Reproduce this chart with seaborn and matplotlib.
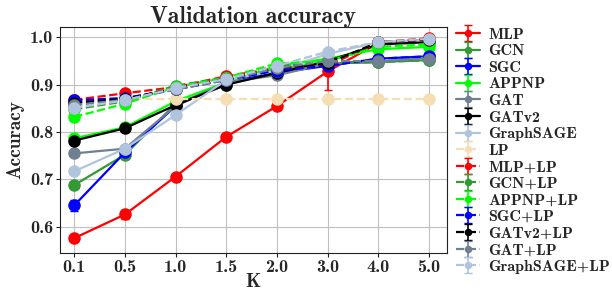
import numpy as np
import matplotlib
matplotlib.use("Agg")
import matplotlib.pyplot as plt
import seaborn as sns

# valores K (eje categórico)
k_labels = ["0.1", "0.5", "1.0", "1.5", "2.0", "3.0", "4.0", "5.0"]

mlp = [0.576, 0.626, 0.706, 0.790, 0.855, 0.928, 0.988, 0.995]
mlp_err = [0.006, 0.010, 0.005, 0.005, 0.006, 0.040, 0.005, 0.005]
gcn = [0.688, 0.752, 0.860, 0.900, 0.935, 0.945, 0.948, 0.952]
sgc = [0.645, 0.757, 0.855, 0.905, 0.925, 0.940, 0.955, 0.960]
sgc_err = [0.012, 0.006, 0.004, 0.004, 0.004, 0.004, 0.003, 0.003]
appnp = [0.787, 0.810, 0.865, 0.905, 0.940, 0.955, 0.975, 0.980]
gat = [0.755, 0.765, 0.855, 0.905, 0.920, 0.945, 0.948, 0.958]
gatv2 = [0.782, 0.808, 0.857, 0.900, 0.925, 0.950, 0.985, 0.990]
sage = [0.717, 0.765, 0.836, 0.910, 0.930, 0.965, 0.990, 0.995]
lp = [0.870, 0.870, 0.870, 0.870, 0.870, 0.870, 0.870, 0.870]
mlp_lp = [0.868, 0.882, 0.895, 0.918, 0.935, 0.940, 0.990, 0.998]
mlp_lp_err = [0.008, 0.004, 0.003, 0.003, 0.003, 0.003, 0.003, 0.003]
gcn_lp = [0.848, 0.865, 0.898, 0.915, 0.940, 0.945, 0.948, 0.952]
appnp_lp = [0.832, 0.860, 0.895, 0.915, 0.945, 0.950, 0.980, 0.985]
appnp_lp_err = [0.008, 0.004, 0.003, 0.003, 0.003, 0.003, 0.003, 0.003]
sgc_lp = [0.867, 0.872, 0.890, 0.910, 0.930, 0.940, 0.955, 0.960]
gatv2_lp = [0.862, 0.870, 0.892, 0.912, 0.935, 0.945, 0.990, 0.995]
gat_lp = [0.857, 0.868, 0.890, 0.910, 0.935, 0.950, 0.950, 0.955]
sage_lp = [0.851, 0.867, 0.893, 0.912, 0.940, 0.970, 0.990, 0.997]

default_err = [0.003] * 8

series = [
    ("MLP", mlp, mlp_err, "red", "-"),
    ("GCN", gcn, default_err, "#339933", "-"),
    ("SGC", sgc, sgc_err, "blue", "-"),
    ("APPNP", appnp, default_err, "lime", "-"),
    ("GAT", gat, default_err, "slategray", "-"),
    ("GATv2", gatv2, default_err, "black", "-"),
    ("GraphSAGE", sage, default_err, "lightsteelblue", "-"),
    ("LP", lp, [0.0] * 8, "wheat", "--"),
    ("MLP+LP", mlp_lp, mlp_lp_err, "red", "--"),
    ("GCN+LP", gcn_lp, default_err, "#339933", "--"),
    ("APPNP+LP", appnp_lp, appnp_lp_err, "lime", "--"),
    ("SGC+LP", sgc_lp, default_err, "blue", "--"),
    ("GATv2+LP", gatv2_lp, default_err, "black", "--"),
    ("GAT+LP", gat_lp, default_err, "slategray", "--"),
    ("GraphSAGE+LP", sage_lp, default_err, "lightsteelblue", "--"),
]

sns.set_style("whitegrid", {"axes.edgecolor": "#222222", "grid.color": "#c0c0c0"})
plt.rcParams["font.family"] = ["cmb10", "DejaVu Serif"]
plt.rcParams["font.weight"] = "bold"
plt.rcParams["axes.unicode_minus"] = False

fig = plt.figure(figsize=(6.12, 2.93), dpi=100)
ax = fig.add_axes([0.098, 0.137, 0.632, 0.771])

x = np.arange(len(k_labels))
for name, vals, err, color, ls in series:
    ax.errorbar(x, vals, yerr=err, color=color, linestyle=ls, marker="o",
                markersize=8, linewidth=1.6, capsize=3, elinewidth=1.2,
                label=name)

ax.set_xticks(x)
ax.set_xticklabels(k_labels)
ax.set_xlim(-0.28, 7.35)
ax.set_ylim(0.545, 1.022)
ax.set_yticks([0.6, 0.7, 0.8, 0.9, 1.0])
ax.set_yticklabels(["0.6", "0.7", "0.8", "0.9", "1.0"])
ax.tick_params(axis="both", labelsize=13, length=3, color="#222222",
               left=True, bottom=True, pad=2)
ax.set_xlabel("K", fontsize=14, fontweight="bold", labelpad=-1)
ax.set_ylabel("Accuracy", fontsize=14, fontweight="bold", labelpad=4)
ax.set_title("Validation accuracy", fontsize=17, fontweight="bold", pad=3)

ax.legend(loc="upper left", bbox_to_anchor=(1.0, 1.04), frameon=False,
          fontsize=11.5, labelspacing=0.15, handlelength=1.5, handletextpad=0.5,
          borderaxespad=0.2, markerscale=0.55)

fig.savefig("out.png", dpi=100)
